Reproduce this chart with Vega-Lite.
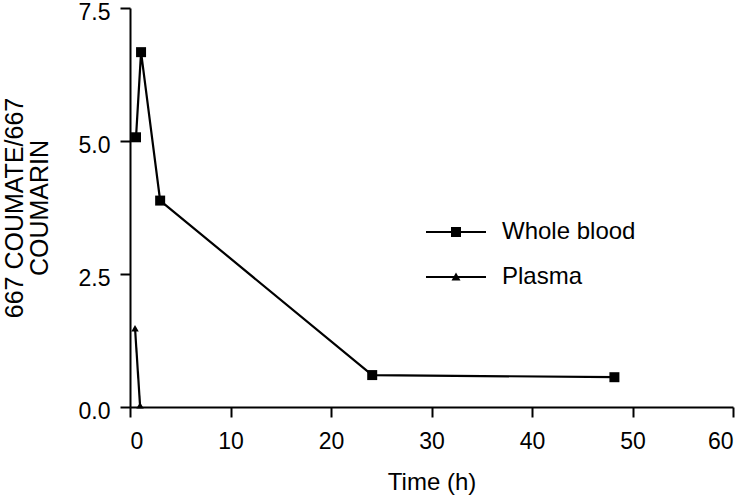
{
  "$schema": "https://vega.github.io/schema/vega-lite/v6.json",
  "width": 603,
  "height": 399,
  "autosize": "none",
  "padding": {"left": 130, "top": 8, "right": 11, "bottom": 91},
  "background": "white",
  "config": {
    "view": {"stroke": null},
    "font": "Liberation Sans",
    "axis": {
      "grid": false,
      "domainColor": "black",
      "domainWidth": 2,
      "tickColor": "black",
      "tickWidth": 2,
      "tickSize": 10,
      "labelFont": "Liberation Sans",
      "labelFontSize": 23,
      "labelColor": "black",
      "titleFont": "Liberation Sans",
      "titleFontSize": 24,
      "titleFontWeight": "normal",
      "titleColor": "black"
    }
  },
  "data": {
    "values": [
      {"series": "Whole blood", "time": 0.6, "ratio": 5.07},
      {"series": "Whole blood", "time": 1.1, "ratio": 6.67},
      {"series": "Whole blood", "time": 3.0, "ratio": 3.88},
      {"series": "Whole blood", "time": 24.1, "ratio": 0.6},
      {"series": "Whole blood", "time": 48.2, "ratio": 0.56},
      {"series": "Plasma", "time": 0.5, "ratio": 1.48},
      {"series": "Plasma", "time": 1.0, "ratio": 0.03}
    ]
  },
  "encoding": {
    "x": {
      "field": "time", "type": "quantitative",
      "scale": {"domain": [0, 60], "nice": false, "zero": false},
      "axis": {"values": [0, 10, 20, 30, 40, 50, 60], "title": "Time (h)", "labelPadding": 13, "titlePadding": 17}
    },
    "y": {
      "field": "ratio", "type": "quantitative",
      "scale": {"domain": [0, 7.5], "nice": false},
      "axis": {"values": [0, 2.5, 5, 7.5], "format": ".1f", "title": ["667 COUMATE/667", "COUMARIN"], "titleFontSize": 25, "titleLineHeight": 25, "labelPadding": 10, "labelOffset": 4, "titlePadding": 26}
    }
  },
  "layer": [
    {
      "mark": {"type": "line", "color": "black", "strokeWidth": 2.2},
      "encoding": {"detail": {"field": "series"}}
    },
    {
      "mark": {"type": "point", "filled": true, "color": "black", "opacity": 1},
      "encoding": {
        "shape": {"field": "series", "scale": {"domain": ["Whole blood", "Plasma"], "range": ["square", "triangle-up"]}, "legend": null},
        "size": {"field": "series", "scale": {"domain": ["Whole blood", "Plasma"], "range": [100, 55]}, "legend": null}
      }
    },
    {
      "mark": {"type": "point", "filled": true, "color": "black", "opacity": 0, "size": 900},
      "encoding": {
        "shape": {
          "field": "series",
          "scale": {"domain": ["Whole blood", "Plasma"], "range": [
            "M-2,-0.067H2V0.067H-2Z M-0.333,-0.333H0.333V0.333H-0.333Z",
            "M-2,-0.067H2V0.067H-2Z M0,-0.3L0.3,0.23H-0.3Z"
          ]},
          "legend": {
            "title": null,
            "orient": "none",
            "legendX": 310,
            "legendY": 208,
            "padding": 0,
            "symbolSize": 900,
            "labelFont": "Liberation Sans",
            "labelFontSize": 24,
            "labelColor": "black",
            "labelOffset": 30,
            "rowPadding": 17,
            "encode": {
              "symbols": {"update": {"opacity": {"value": 1}, "fill": {"value": "black"}, "fillOpacity": {"value": 1}, "strokeWidth": {"value": 0}}}
            }
          }
        }
      }
    }
  ],
  "resolve": {"scale": {"shape": "independent", "size": "independent"}, "legend": {"shape": "independent"}}
}
